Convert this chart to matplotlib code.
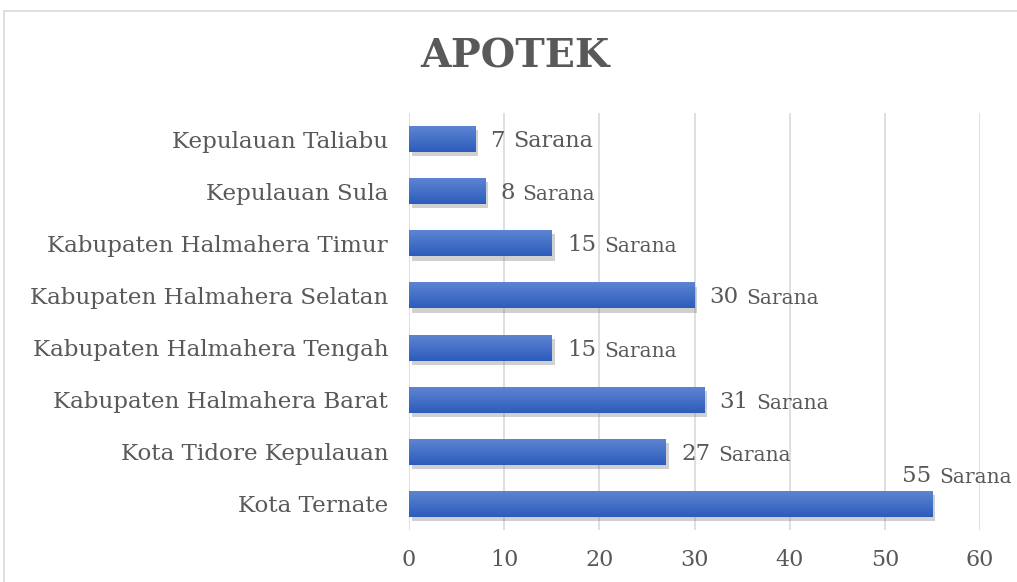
import matplotlib.pyplot as plt
import matplotlib.patheffects as pe
from matplotlib.patches import Rectangle
from matplotlib.colors import LinearSegmentedColormap
import numpy as np

regions = ['Kota Ternate', 'Kota Tidore Kepulauan', 'Kabupaten Halmahera Barat',
           'Kabupaten Halmahera Tengah', 'Kabupaten Halmahera Selatan',
           'Kabupaten Halmahera Timur', 'Kepulauan Sula', 'Kepulauan Taliabu']
apotek = [55, 27, 31, 15, 30, 15, 8, 7]
unit = 'Sarana'
xticks = [0, 10, 20, 30, 40, 50, 60]

text_col = '#595959'
grid_col = '#d9d9d9'

plt.rcParams['font.family'] = ['DejaVu Serif']

fig = plt.figure(figsize=(10.17, 5.82), dpi=100)
W, H = 1017, 582
ax = fig.add_axes([409 / W, 1 - 530 / H, (980 - 409) / W, (530 - 113) / H])

# chart area border (runs off the right and bottom edge)
fig.patches.append(Rectangle((4 / W, -0.1), 1.2, 1 - 11 / H + 0.1,
                             transform=fig.transFigure, fill=False,
                             edgecolor=grid_col, lw=1.2))

y = np.arange(len(regions))
bars = ax.barh(y, apotek, height=0.5, color='#3f6cc6', zorder=3,
               path_effects=[pe.SimplePatchShadow(offset=(2, -3), shadow_rgbFace='#7a7a7a', alpha=0.35),
                             pe.Normal()])

# vertical gradient on each bar
grad = np.linspace(0, 1, 64).reshape(-1, 1)
cmap = LinearSegmentedColormap.from_list('g', ['#2c5cbb', '#5f86d3'])
for b in bars:
    x0, y0 = b.get_x(), b.get_y()
    im = ax.imshow(grad, cmap=cmap, aspect='auto', origin='upper',
                   extent=[x0, x0 + b.get_width(), y0 + b.get_height(), y0], zorder=4)
    im.set_clip_path(b)

ax.set_xlim(0, 60)
ax.set_ylim(-0.5, len(regions) - 0.5)
ax.set_xticks(xticks)
ax.set_yticks(y)
ax.set_yticklabels(regions, fontsize=16.6, color=text_col)
ax.tick_params(axis='x', labelsize=16, colors=text_col, length=0, pad=14)
ax.tick_params(axis='y', length=0, pad=15)
ax.grid(axis='x', color=grid_col, lw=1.2, zorder=0)
for s in ax.spines.values():
    s.set_visible(False)

# data labels: number larger, unit smaller
for i, v in enumerate(apotek):
    if v == max(apotek):
        off = (-30, 28)
    else:
        off = (15, -2)
    top = i == len(regions) - 1
    t = ax.annotate(str(v), xy=(v, i), xytext=off, textcoords='offset pixels',
                    ha='left', va='center', fontsize=16.5, color=text_col, zorder=5)
    ax.annotate(unit, xy=(1, 0), xycoords=t, xytext=(8, 0), textcoords='offset pixels',
                ha='left', va='bottom',
                fontsize=16 if top else 14.5, color=text_col, zorder=5)

fig.text(515 / W, 1 - 57 / H, 'APOTEK', ha='center', va='center',
         fontsize=28.5, fontweight='bold', color=text_col)

fig.savefig('out.png', dpi=100)
